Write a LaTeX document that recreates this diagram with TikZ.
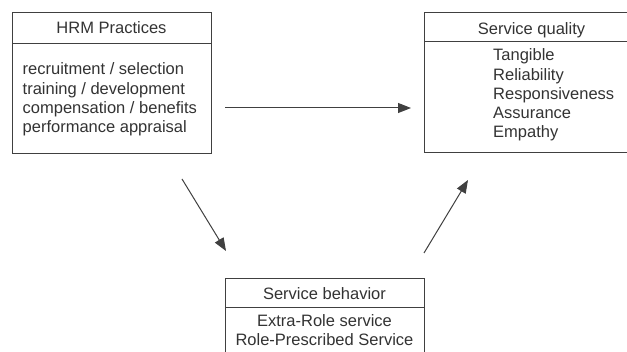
\documentclass[tikz,border=0pt]{standalone}
\usepackage{fontspec}
\setmainfont{Liberation Sans}
\usetikzlibrary{arrows.meta}
\definecolor{ink}{HTML}{333333}
\definecolor{linec}{HTML}{404040}
\tikzset{
  boxline/.style={draw=linec, line width=1pt},
  txt/.style={text=ink, inner sep=0pt, font=\fontsize{16.5}{19.2}\selectfont},
  arr/.style={draw=linec, line width=1pt, -{Triangle[length=13pt,width=10pt]}}
}
\begin{document}
\begin{tikzpicture}[x=1pt,y=-1pt]
\useasboundingbox (0,0) rectangle (627,352);
\clip (0,0) rectangle (627,352);
\fill[white] (0,0) rectangle (627,352);
% HRM box
\draw[boxline] (12,13) rectangle (211,154);
\draw[boxline] (12,44) -- (211,44);
\node[txt, anchor=base] (hrmt) at (111.5,34) {HRM Practices};
\node[txt, anchor=base west, align=left] (hrmb) at (22.5,132.6) {recruitment / selection\\training / development\\compensation / benefits\\performance appraisal};
% Service quality box
\draw[boxline] (424,13) rectangle (640,153);
\draw[boxline] (424,42) -- (640,42);
\node[txt, anchor=base] (sqt) at (531.5,35) {Service quality};
\node[txt, anchor=base west, align=left] (sqb) at (493,137.8) {Tangible\\Reliability\\Responsiveness\\Assurance\\Empathy};
% Service behavior box
\draw[boxline] (225,279) rectangle (424,360);
\draw[boxline] (225,308) -- (424,308);
\node[txt, anchor=base] (sbt) at (324.5,300) {Service behavior};
\node[txt, anchor=base] (sbb1) at (324.5,327) {Extra-Role service};
\node[txt, anchor=base] (sbb2) at (324.5,346) {Role-Prescribed Service};
% arrows
\coordinate (a1s) at (225,108);
\coordinate (a1e) at (411,108);
\coordinate (a2s) at (182,179);
\coordinate (a2e) at (226,251);
\coordinate (a3s) at (424,253);
\coordinate (a3e) at (468,180);
\draw[arr] (a1s) -- (a1e);
\draw[arr] (a2s) -- (a2e);
\draw[arr] (a3s) -- (a3e);
\end{tikzpicture}
\end{document}
